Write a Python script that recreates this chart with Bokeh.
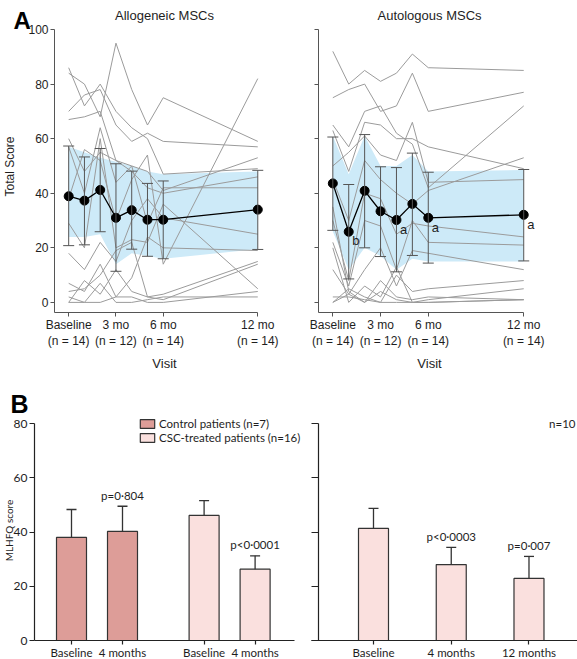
import math
from bokeh.plotting import figure
from bokeh.models import ColumnDataSource, Whisker, TeeHead, Label, Legend, LegendItem, FixedTicker
from bokeh.layouts import column, row
from bokeh.embed import file_html
from bokeh.resources import INLINE

FONT_A = "Liberation Sans"
FONT_B = "Lato"

# ---------------- data: panel A ----------------
months = [0, 1, 2, 3, 4, 5, 6, 12]
visit_ticks = [0, 3, 6, 12]
visit_labels = ["Baseline\n(n = 14)", "3 mo\n(n = 12)", "6 mo\n(n = 14)", "12 mo\n(n = 14)"]
score_ticks = [0, 20, 40, 60, 80, 100]

allo_lines = [
    [86, 72, 80, 70, 64, 60, 47, 49],
    [84, 80, 68, 95, 78, 65, 75, 59],
    [70, 76, 78, 65, 59, 62, 59, 57],
    [67, 68, 70, 52, 50, 48, 41, 53],
    [60, 48, 55, 52, 48, 42, 40, 46],
    [57, 40, 64, 44, 50, 29, 42, 42],
    [38, 56, 52, 30, 45, 54, 14, 82],
    [29, 20, 60, 20, 23, 22, 36, 5],
    [18, 12, 22, 15, 30, 38, 31, 25],
    [7, 4, 14, 2, 9, 24, 20, 19],
    [4, 5, 10, 19, 22, 2, 3, 15],
    [0, 8, 3, 12, 4, 2, 1, 14],
    [0, 0, 0, 2, 2, 0, 0, 4],
    [2, 0, 7, 0, 0, 1, 2, 2],
]
allo_mean = [38.9, 37.3, 41.2, 31.0, 33.8, 30.3, 30.3, 34.0]
allo_sd_hi = [57.3, 53.3, 56.4, 50.8, 48.1, 43.6, 44.5, 48.4]
allo_sd_lo = [20.8, 21.1, 25.9, 11.4, 19.5, 16.9, 16.0, 19.4]
allo_band_hi = [57, 55, 53, 51.5, 50, 48, 47, 48]
allo_band_lo = [24, 24, 25, 14, 18, 17, 16, 19.5]

auto_lines = [
    [92, 80, 85, 81, 84, 91, 86, 85],
    [75, 78, 80, 70, 72, 84, 70, 77],
    [65, 57, 70, 72, 62, 58, 42, 72],
    [63, 48, 66, 65, 60, 60, 57, 49],
    [50, 55, 61, 54, 52, 66, 44, 45],
    [45, 30, 52, 45, 40, 36, 41, 53],
    [30, 8, 40, 38, 25, 29, 28, 24],
    [22, 6, 30, 28, 12, 30, 22, 21],
    [12, 3, 12, 20, 6, 19, 18, 12],
    [0, 5, 2, 0, 10, 4, 5, 8],
    [0, 3, 0, 4, 1, 0, 1, 5],
    [2, 2, 1, 0, 0, 0, 0, 1],
    [35, 4, 0, 8, 2, 1, 2, 1],
    [20, 0, 6, 2, 13, 0, 0, 1],
]
auto_mean = [43.6, 25.9, 40.9, 33.4, 30.2, 36.1, 31.0, 32.1]
auto_sd_hi = [60.6, 43.2, 61.5, 49.7, 49.4, 54.7, 47.7, 48.7]
auto_sd_lo = [26.4, 8.6, 20.0, 16.8, 11.2, 17.2, 14.4, 15.2]
auto_band_hi = [61, 47, 61, 50, 50, 54, 48, 48.5]
auto_band_lo = [26, 12, 20, 17, 12, 16, 15, 15]
auto_marks = ["", "b", "", "", "a", "", "a", "a"]

# ---------------- data: panel B ----------------
b_left_labels = ["Baseline", "4 months", "Baseline", "4 months"]
b_left_pos = [1, 2, 3.6, 4.6]
b_left_vals = [38.0, 40.2, 46.1, 26.3]
b_left_err = [48.3, 49.5, 51.6, 31.2]
b_left_p = ["", "p=0·804", "", "p<0·0001"]
b_groups = ["Control patients (n=7)", "CSC-treated patients (n=16)"]
b_colors = ["#dd9d98", "#fae0de"]

b_right_labels = ["Baseline", "4 months", "12 months"]
b_right_pos = [1, 2, 3]
b_right_vals = [41.3, 28.0, 22.9]
b_right_err = [48.7, 34.3, 31.0]
b_right_p = ["", "p<0·0003", "p=0·007"]
mlhfq_ticks = [0, 20, 40, 60, 80]

# ---------------- layout geometry (page pixels) ----------------
# axis box = where the axes sit on the page; figure box = whole figure
A1_BOX, A1_ORG, A1_W = (54, 29, 262, 312), (0, 0), 290
A2_BOX, A2_ORG, A2_W = (318, 29, 528, 312), (290, 0), 287
A_H = 375
B1_BOX, B1_ORG, B1_W = (34, 423, 294, 640), (0, 375), 303
B2_BOX, B2_ORG, B2_W = (318, 423, 577, 640), (303, 375), 274
B_H = 284
A_XR, A_YR = (-0.9, 12.3), (-3.7, 100)
B1_XR, B2_XR, B_YR = (0.2745, 5.3725), (0.2926, 3.624), (0, 80)


def px2data(px, py, box, xr, yr):
    l, t, r, b = box
    x = xr[0] + (px - l) / (r - l) * (xr[1] - xr[0])
    y = yr[0] + (b - py) / (b - t) * (yr[1] - yr[0])
    return x, y


def make_fig(width, height, box, org, xr, yr):
    ox, oy = org
    x0, y1 = px2data(ox, oy, box, xr, yr)
    x1, y0 = px2data(ox + width, oy + height, box, xr, yr)
    p = figure(width=width, height=height, x_range=(x0, x1), y_range=(y0, y1),
               output_backend="svg", toolbar_location=None, title=None, min_border=0)
    p.xgrid.visible = False
    p.ygrid.visible = False
    p.outline_line_color = None
    p.background_fill_color = "white"
    p.border_fill_color = "white"
    return p


def style_axes(p, font, color, xsize, ysize, width=1):
    for ax in (p.xaxis[0], p.yaxis[0]):
        ax.axis_line_color = color
        ax.axis_line_width = width
        ax.major_tick_line_color = color
        ax.major_tick_line_width = width
        ax.minor_tick_line_color = None
        ax.major_tick_in = 0
        ax.major_tick_out = 4
        ax.major_label_text_font = font
        ax.major_label_text_color = "#1e1e1e"
    p.xaxis[0].major_label_text_font_size = xsize
    p.yaxis[0].major_label_text_font_size = ysize
    p.xaxis[0].major_label_standoff = 1
    p.yaxis[0].major_label_standoff = 2


def add_text(p, text, px, py, box, xr, yr, font, size, align="center", baseline="middle",
             angle=0.0, bold=False, color="#1e1e1e"):
    x, y = px2data(px, py, box, xr, yr)
    p.add_layout(Label(x=x, y=y, text=text, text_font=font, text_font_size=size,
                       text_align=align, text_baseline=baseline, angle=angle,
                       text_font_style="bold" if bold else "normal", text_color=color))


def panel_a(box, org, width, lines, mean, sd_lo, sd_hi, band_lo, band_hi, show_ylabels):
    p = make_fig(width, A_H, box, org, A_XR, A_YR)
    style_axes(p, FONT_A, "#555555", "12px", "12px")
    p.xaxis.fixed_location = A_YR[0]
    p.xaxis.bounds = (A_XR[0], visit_ticks[-1])
    p.yaxis.fixed_location = A_XR[0]
    p.yaxis.bounds = (A_YR[0], score_ticks[-1])
    p.xaxis.ticker = FixedTicker(ticks=visit_ticks)
    p.xaxis.major_label_overrides = dict(zip(visit_ticks, visit_labels))
    p.yaxis.ticker = FixedTicker(ticks=score_ticks)
    if not show_ylabels:
        p.yaxis.major_label_overrides = {t: "" for t in score_ticks}
    p.varea(x=months, y1=band_lo, y2=band_hi, fill_color="#cdeaf8", level="underlay")
    p.multi_line(xs=[months] * len(lines), ys=lines, line_color="#9b9b9b", line_width=1)
    src = ColumnDataSource(dict(x=months, lo=sd_lo, hi=sd_hi))
    w = Whisker(source=src, base="x", lower="lo", upper="hi", dimension="height",
                line_color="#555555", line_width=1, level="glyph",
                upper_head=TeeHead(size=11, line_color="#555555", line_width=1),
                lower_head=TeeHead(size=11, line_color="#555555", line_width=1))
    p.add_layout(w)
    p.line(months, mean, line_color="black", line_width=1.3)
    p.scatter(months, mean, size=9, fill_color="black", line_color="black")
    return p


# ---------- Panel A left ----------
pA1 = panel_a(A1_BOX, A1_ORG, A1_W, allo_lines, allo_mean, allo_sd_lo, allo_sd_hi,
              allo_band_lo, allo_band_hi, True)
add_text(pA1, "A", 13, 20, A1_BOX, A_XR, A_YR, FONT_A, "24px", align="left", baseline="alphabetic",
         bold=True, color="black")
add_text(pA1, "Allogeneic MSCs", 164, 15, A1_BOX, A_XR, A_YR, FONT_A, "13px")
add_text(pA1, "Total Score", 9, 166, A1_BOX, A_XR, A_YR, FONT_A, "12px", angle=math.pi / 2)
add_text(pA1, "Visit", 164, 363, A1_BOX, A_XR, A_YR, FONT_A, "13px")

# ---------- Panel A right ----------
pA2 = panel_a(A2_BOX, A2_ORG, A2_W, auto_lines, auto_mean, auto_sd_lo, auto_sd_hi,
              auto_band_lo, auto_band_hi, False)
add_text(pA2, "Autologous MSCs", 429, 15, A2_BOX, A_XR, A_YR, FONT_A, "13px")
add_text(pA2, "Visit", 429, 363, A2_BOX, A_XR, A_YR, FONT_A, "13px")
for m, v, mk in zip(months, auto_mean, auto_marks):
    if mk:
        pA2.add_layout(Label(x=m + 0.45, y=v - 3.4, text=mk, text_font=FONT_A, text_font_size="13px",
                             text_align="center", text_baseline="middle", text_color="#1e1e1e"))

# ---------- Panel B left ----------
pB1 = make_fig(B1_W, B_H, B1_BOX, B1_ORG, B1_XR, B_YR)
style_axes(pB1, FONT_B, "#222222", "11.5px", "12px", width=1.2)
pB1.xaxis.fixed_location = B_YR[0]
pB1.xaxis.bounds = B1_XR
pB1.yaxis.fixed_location = B1_XR[0]
pB1.yaxis.bounds = (mlhfq_ticks[0], mlhfq_ticks[-1])
pB1.xaxis.ticker = FixedTicker(ticks=b_left_pos)
pB1.xaxis.major_label_overrides = dict(zip(b_left_pos, b_left_labels))
pB1.yaxis.ticker = FixedTicker(ticks=mlhfq_ticks)
pB1.yaxis.major_tick_out = 5
bw1 = 30 / 51.0
src_ctrl = ColumnDataSource(dict(x=b_left_pos[:2], top=b_left_vals[:2]))
src_csc = ColumnDataSource(dict(x=b_left_pos[2:], top=b_left_vals[2:]))
r_ctrl = pB1.vbar(x="x", top="top", width=bw1, source=src_ctrl, fill_color=b_colors[0],
                  line_color="#333333", line_width=1.2)
r_csc = pB1.vbar(x="x", top="top", width=bw1, source=src_csc, fill_color=b_colors[1],
                 line_color="#333333", line_width=1.2)
src_eb1 = ColumnDataSource(dict(x=b_left_pos, lo=b_left_vals, hi=b_left_err))
pB1.add_layout(Whisker(source=src_eb1, base="x", lower="lo", upper="hi", dimension="height",
                       line_color="#333333", line_width=1.3, level="glyph",
                       upper_head=TeeHead(size=10, line_color="#333333", line_width=1.3),
                       lower_head=None))
for x, e, t in zip(b_left_pos, b_left_err, b_left_p):
    if t:
        pB1.add_layout(Label(x=x, y=e + 4.1, text=t, text_font=FONT_B, text_font_size="11.5px",
                             text_align="center", text_baseline="middle", text_color="#1e1e1e"))
legend = Legend(items=[LegendItem(label=b_groups[0], renderers=[r_ctrl]),
                       LegendItem(label=b_groups[1], renderers=[r_csc])],
                location=(138, 215), orientation="vertical", glyph_width=18, glyph_height=11,
                label_height=14, label_standoff=3, spacing=0, padding=0, margin=0,
                border_line_alpha=0, background_fill_alpha=0,
                label_text_font=FONT_B, label_text_font_size="11.5px", label_text_color="#1e1e1e")
pB1.add_layout(legend)
add_text(pB1, "B", 10, 403, B1_BOX, B1_XR, B_YR, FONT_A, "25px", align="left", baseline="alphabetic",
         bold=True, color="black")
add_text(pB1, "MLHFQ score", 8, 530, B1_BOX, B1_XR, B_YR, FONT_B, "10px", angle=math.pi / 2)

# ---------- Panel B right ----------
pB2 = make_fig(B2_W, B_H, B2_BOX, B2_ORG, B2_XR, B_YR)
style_axes(pB2, FONT_B, "#222222", "11.5px", "12px", width=1.2)
pB2.xaxis.fixed_location = B_YR[0]
pB2.xaxis.bounds = (px2data(311, 0, B2_BOX, B2_XR, B_YR)[0], B2_XR[1])
pB2.yaxis.fixed_location = B2_XR[0]
pB2.yaxis.bounds = (mlhfq_ticks[0], mlhfq_ticks[-1])
pB2.xaxis.ticker = FixedTicker(ticks=b_right_pos)
pB2.xaxis.major_label_overrides = dict(zip(b_right_pos, b_right_labels))
pB2.yaxis.ticker = FixedTicker(ticks=mlhfq_ticks)
pB2.yaxis.major_label_overrides = {t: "" for t in mlhfq_ticks}
pB2.yaxis.major_tick_out = 7
bw2 = 30 / 77.75
pB2.vbar(x=b_right_pos, top=b_right_vals, width=bw2, fill_color=b_colors[1],
         line_color="#333333", line_width=1.2)
src_eb2 = ColumnDataSource(dict(x=b_right_pos, lo=b_right_vals, hi=b_right_err))
pB2.add_layout(Whisker(source=src_eb2, base="x", lower="lo", upper="hi", dimension="height",
                       line_color="#333333", line_width=1.3, level="glyph",
                       upper_head=TeeHead(size=10, line_color="#333333", line_width=1.3),
                       lower_head=None))
for x, e, t in zip(b_right_pos, b_right_err, b_right_p):
    if t:
        pB2.add_layout(Label(x=x, y=e + 4.1, text=t, text_font=FONT_B, text_font_size="11.5px",
                             text_align="center", text_baseline="middle", text_color="#1e1e1e"))
add_text(pB2, "n=10", 575, 423, B2_BOX, B2_XR, B_YR, FONT_B, "11.5px", align="right")

layout = column(row(pA1, pA2), row(pB1, pB2))
open("out.html", "w").write(file_html(layout, INLINE))
